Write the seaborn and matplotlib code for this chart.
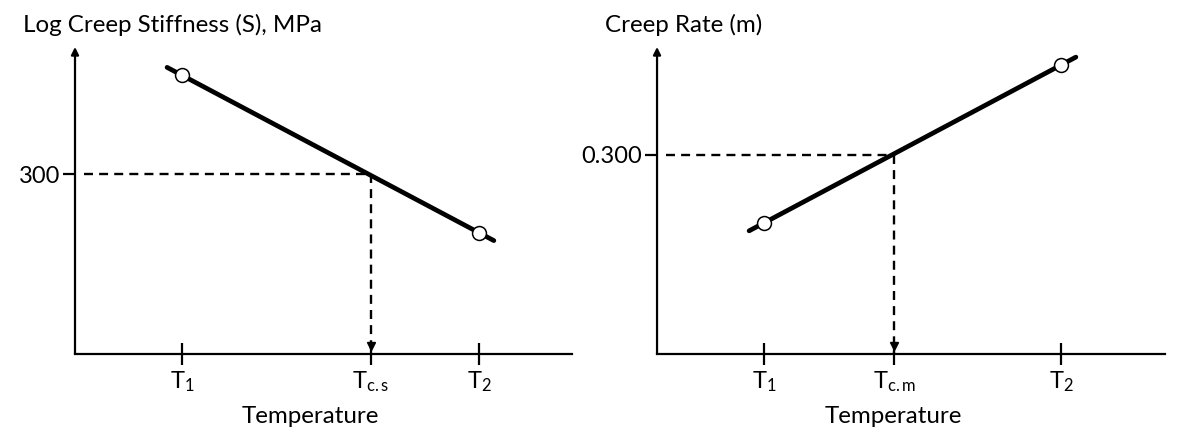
import numpy as np
import pandas as pd
import matplotlib.pyplot as plt
import seaborn as sns

# Data (abstract temperature units: T1 = 0, T2 = 1)
temps = [0.0, 1.0]
stiffness = [620, 195]        # MPa, log scale
creep_rate = [0.2547, 0.360]
tc_s = 0.636                  # where S = 300 MPa
tc_m = 0.438                  # where m = 0.300
s_crit = 300
m_crit = 0.300
left_ticks = ["T$_1$", r"T$_{\mathregular{c.s}}$", "T$_2$"]
right_ticks = ["T$_1$", r"T$_{\mathregular{c.m}}$", "T$_2$"]

sns.set_theme(style="white")
plt.rcParams['font.family'] = ['Lato', 'DejaVu Sans']
plt.rcParams['mathtext.fontset'] = 'custom'
plt.rcParams['mathtext.rm'] = 'Lato'
plt.rcParams['mathtext.it'] = 'Lato'
plt.rcParams['mathtext.default'] = 'regular'

fig = plt.figure(figsize=(11.83, 4.34), dpi=100)
ax1 = fig.add_axes([0.0634, 0.1843, 0.4201, 0.7074])
ax2 = fig.add_axes([0.5554, 0.1843, 0.4294, 0.7074])

ext = 0.05
dash = (3.8, 2.6)


def style_axes(ax):
    for s in ["top", "right", "left"]:
        ax.spines[s].set_visible(False)
    ax.spines["bottom"].set_linewidth(1.6)
    ax.spines["bottom"].set_color("black")
    ax.annotate("", xy=(0, 1), xytext=(0, 0), xycoords="axes fraction",
                arrowprops=dict(arrowstyle="-|>", lw=1.6, color="black",
                                mutation_scale=11, shrinkA=0, shrinkB=0))
    ax.tick_params(axis="x", direction="inout", length=16, width=1.6,
                   colors="black", labelsize=17, pad=3, bottom=True)
    ax.tick_params(axis="y", direction="out", length=9, width=1.6,
                   colors="black", labelsize=17, pad=1.5, left=True)
    ax.grid(False)


# Left: log creep stiffness
ax1.set_yscale("log")
logs = np.log10(stiffness)
k, b = np.polyfit(temps, logs, 1)
x_line = np.array([temps[0] - ext, temps[1] + ext])
line1 = pd.DataFrame({"T": x_line, "S": 10 ** (k * x_line + b)})
sns.lineplot(data=line1, x="T", y="S", ax=ax1, color="black", lw=3.4)
ax1.plot(temps, stiffness, "o", ms=10, mfc="white", mec="black", mew=1.1, zorder=5)
ax1.set_xlim(-0.360, 1.313)
ax1.set_ylim(80, 763)
ax1.plot([-0.33, tc_s], [s_crit, s_crit], color="black", lw=1.7, dashes=dash)
ax1.plot([tc_s, tc_s], [s_crit, 80], color="black", lw=1.7, dashes=dash)
ax1.plot(tc_s, 0.025, marker="v", ms=6, color="black",
         transform=ax1.get_xaxis_transform(), clip_on=False)
ax1.set_xticks([temps[0], tc_s, temps[1]])
ax1.set_xticklabels(left_ticks)
ax1.yaxis.set_minor_locator(plt.NullLocator())
ax1.set_yticks([s_crit])
ax1.set_yticklabels(["300"])
style_axes(ax1)
ax1.set_xlabel("Temperature", fontsize=17.4, color="black")
ax1.xaxis.set_label_coords(0.473, -0.17)
ax1.set_ylabel("")

# Right: creep rate
k2, b2 = np.polyfit(temps, creep_rate, 1)
line2 = pd.DataFrame({"T": x_line, "m": k2 * x_line + b2})
sns.lineplot(data=line2, x="T", y="m", ax=ax2, color="black", lw=3.4)
ax2.plot(temps, creep_rate, "o", ms=10, mfc="white", mec="black", mew=1.1, zorder=5)
ax2.set_xlim(-0.360, 1.350)
ax2.set_ylim(0.1673, 0.372)
ax2.plot([-0.33, tc_m], [m_crit, m_crit], color="black", lw=1.7, dashes=dash)
ax2.plot([tc_m, tc_m], [m_crit, 0.1673], color="black", lw=1.7, dashes=dash)
ax2.plot(tc_m, 0.025, marker="v", ms=6, color="black",
         transform=ax2.get_xaxis_transform(), clip_on=False)
ax2.set_xticks([temps[0], tc_m, temps[1]])
ax2.set_xticklabels(right_ticks)
ax2.set_yticks([m_crit])
ax2.set_yticklabels(["0.300"])
style_axes(ax2)
ax2.set_xlabel("Temperature", fontsize=17.4, color="black")
ax2.xaxis.set_label_coords(0.465, -0.17)
ax2.set_ylabel("")

fig.text(23 / 1183, 1 - 32 / 434, "Log Creep Stiffness (S), MPa", fontsize=17.4,
         va="baseline", ha="left", color="black")
fig.text(605 / 1183, 1 - 32 / 434, "Creep Rate (m)", fontsize=17.4,
         va="baseline", ha="left", color="black")

fig.savefig("out.png", dpi=100)
